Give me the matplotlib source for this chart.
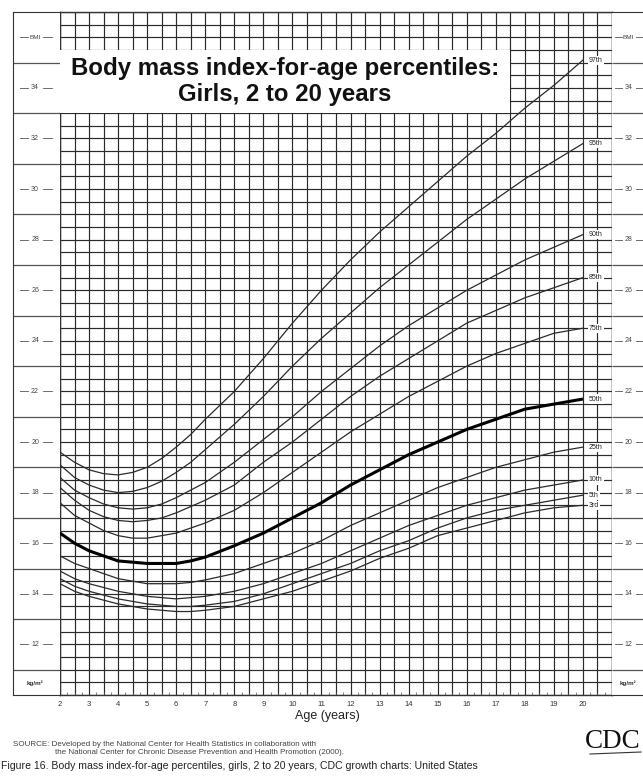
import numpy as np
import matplotlib.pyplot as plt
from matplotlib.patches import Rectangle

# Ages (years) and BMI percentile values
ages = [2, 2.5, 3, 3.5, 4, 4.5, 5, 5.5, 6, 6.5, 7, 8, 9, 10, 11, 12, 13, 14, 15, 16, 17, 18, 19, 20]
p3 = [14.4, 14.1, 13.9, 13.75, 13.6, 13.5, 13.4, 13.35, 13.3, 13.3, 13.35,
      13.5, 13.8, 14.1, 14.5, 14.9, 15.4, 15.8, 16.3, 16.6, 16.9, 17.2, 17.4, 17.5]
p5 = [14.6, 14.3, 14.1, 13.95, 13.8, 13.7, 13.6, 13.55, 13.5, 13.5, 13.55,
      13.7, 14.0, 14.4, 14.8, 15.2, 15.7, 16.1, 16.6, 17.0, 17.3, 17.5, 17.7, 17.9]
p10 = [14.9, 14.6, 14.4, 14.25, 14.1, 14.0, 13.9, 13.85, 13.8, 13.85, 13.9,
       14.1, 14.4, 14.8, 15.2, 15.7, 16.2, 16.7, 17.1, 17.5, 17.8, 18.1, 18.3, 18.5]
p25 = [15.5, 15.2, 15.0, 14.8, 14.6, 14.5, 14.4, 14.4, 14.4, 14.45, 14.55,
       14.8, 15.2, 15.6, 16.1, 16.7, 17.2, 17.7, 18.2, 18.6, 19.0, 19.3, 19.6, 19.8]
p50 = [16.4, 16.0, 15.7, 15.5, 15.3, 15.25, 15.2, 15.2, 15.2, 15.3, 15.45,
       15.9, 16.4, 17.0, 17.6, 18.3, 18.9, 19.5, 20.0, 20.5, 20.9, 21.3, 21.5, 21.7]
p75 = [17.6, 17.1, 16.8, 16.5, 16.3, 16.2, 16.2, 16.3, 16.4, 16.6, 16.8,
       17.3, 18.0, 18.8, 19.6, 20.4, 21.1, 21.8, 22.4, 23.0, 23.5, 23.9, 24.3, 24.5]
p85 = [18.2, 17.7, 17.3, 17.05, 16.9, 16.85, 16.9, 17.0, 17.2, 17.45, 17.7,
       18.3, 19.2, 20.0, 20.9, 21.8, 22.6, 23.3, 24.0, 24.7, 25.2, 25.7, 26.1, 26.5]
p90 = [18.6, 18.1, 17.8, 17.55, 17.4, 17.35, 17.4, 17.55, 17.8, 18.1, 18.4,
       19.2, 20.1, 21.0, 22.0, 22.9, 23.8, 24.6, 25.3, 26.0, 26.6, 27.2, 27.7, 28.2]
p95 = [19.1, 18.6, 18.3, 18.1, 18.0, 18.05, 18.2, 18.45, 18.8, 19.2, 19.7,
       20.7, 21.8, 23.0, 24.1, 25.1, 26.1, 27.0, 27.9, 28.8, 29.6, 30.4, 31.1, 31.8]
p97 = [19.6, 19.2, 18.9, 18.75, 18.7, 18.8, 19.0, 19.35, 19.8, 20.3, 20.9,
       22.0, 23.3, 24.7, 26.0, 27.2, 28.3, 29.3, 30.3, 31.3, 32.2, 33.2, 34.1, 35.1]

curves = [p3, p5, p10, p25, p50, p75, p85, p90, p95, p97]
curve_labels = ["3rd", "5th", "10th", "25th", "50th", "75th", "85th", "90th", "95th", "97th"]

bmi_labels = [12, 14, 16, 18, 20, 22, 24, 26, 28, 30, 32, 34]
age_ticks = list(range(2, 21))

plt.rcParams['font.family'] = ['Liberation Sans', 'DejaVu Sans']

W, H = 643, 776
fig = plt.figure(figsize=(W / 100, H / 100), dpi=100)


def box(x0, y0, x1, y1):
    # pixel box -> figure fraction
    return [x0 / W, 1 - y1 / H, (x1 - x0) / W, (y1 - y0) / H]


ax = fig.add_axes(box(60, 12, 612, 695))
axl = fig.add_axes(box(13, 12, 60, 695))
axr = fig.add_axes(box(612, 12, 662, 695))

# grid
grid_col = "#2a2a2a"
ax.vlines(np.arange(2, 21.01, 0.5), 10, 37, color=grid_col, lw=0.85, zorder=1)
ax.hlines(np.arange(10, 37.01, 0.5), 2, 21, color=grid_col, lw=0.85, zorder=1)
ax.set_xlim(2, 21)
ax.set_ylim(10, 37)

# title box
ax.add_patch(Rectangle((2, 33), 15.5, 2.5, facecolor="white", edgecolor="none", zorder=3))
ax.text(9.75, 34.24, "Body mass index-for-age percentiles:\nGirls, 2 to 20 years",
        ha="center", va="center", fontsize=17.3, fontweight="bold", linespacing=1.15,
        color="#111", zorder=4)

# percentile curves
for vals, lab in zip(curves, curve_labels):
    if lab == "50th":
        ax.plot(ages, vals, color="black", lw=2.2, zorder=5, solid_capstyle="butt")
    else:
        ax.plot(ages, vals, color="#2b2b2b", lw=0.9, zorder=5)
    ax.text(20.2, vals[-1], lab, fontsize=5, ha="left", va="center", color="#222", zorder=6,
            bbox=dict(boxstyle="square,pad=0.15", fc="white", ec="none"))

ax.set_xticks(age_ticks)
ax.set_xticklabels([str(a) for a in age_ticks], fontsize=5.5, color="#333")
ax.set_xticks(np.arange(2, 21.01, 0.25), minor=True)
ax.set_yticks([])
ax.set_yticks(np.arange(10, 37.01, 0.25), minor=True)
ax.tick_params(axis="x", which="major", length=0, pad=4)
ax.tick_params(axis="x", which="minor", direction="in", length=2.5, width=0.5, color="#555")
ax.tick_params(axis="y", which="minor", direction="out", length=2, width=0.5, color="#777",
               left=True, right=True)
for s in ax.spines.values():
    s.set_linewidth(1.0)
    s.set_color("#333")

# side label columns
for a, tx, d1, d2 in [(axl, 0.47, (0.15, 0.32), (0.64, 0.83)),
                      (axr, 0.33, (0.05, 0.2), (0.47, 0.64))]:
    a.set_xlim(0, 1)
    a.set_ylim(10, 37)
    a.set_xticks([])
    a.set_yticks([])
    a.hlines(np.arange(11, 36, 2), 0, 1, color="#555", lw=0.9)
    for v in bmi_labels:
        a.text(tx, v, str(v), fontsize=5, ha="center", va="center", color="#444")
        a.plot(d1, [v, v], color="#555", lw=0.6)
        a.plot(d2, [v, v], color="#555", lw=0.6)
    a.text(tx, 36, "BMI", fontsize=4.6, ha="center", va="center", color="#444")
    a.plot(d1, [36, 36], color="#555", lw=0.6)
    a.plot(d2, [36, 36], color="#555", lw=0.6)
    a.text(tx, 10.45, "kg/m²", fontsize=4.5, ha="center", va="center", color="#333",
           fontweight="bold")
    for s in a.spines.values():
        s.set_color("#333")
axl.spines["right"].set_visible(False)
axr.spines["left"].set_visible(False)
axr.spines["right"].set_visible(False)

fig.text(327 / W, 1 - 716 / H, "Age (years)", fontsize=9, ha="center", va="center", color="#222")

fig.text(13 / W, 1 - 745 / H,
         "SOURCE: Developed by the National Center for Health Statistics in collaboration with",
         fontsize=5.8, va="center", color="#444")
fig.text(55 / W, 1 - 753 / H,
         "the National Center for Chronic Disease Prevention and Health Promotion (2000).",
         fontsize=5.8, va="center", color="#444")
fig.text(1 / W, 1 - 766 / H,
         "Figure 16. Body mass index-for-age percentiles, girls, 2 to 20 years, CDC growth charts: United States",
         fontsize=7.6, va="center", color="#222")

fig.text(585 / W, 1 - 741 / H, "CDC", family="Liberation Serif", fontsize=19.5, va="center", color="#111")
fig.add_artist(plt.Line2D([590 / W, 641 / W], [1 - 754 / H, 1 - 752 / H], color="#333", lw=0.8))

fig.savefig("out.png", dpi=100, facecolor="white")
